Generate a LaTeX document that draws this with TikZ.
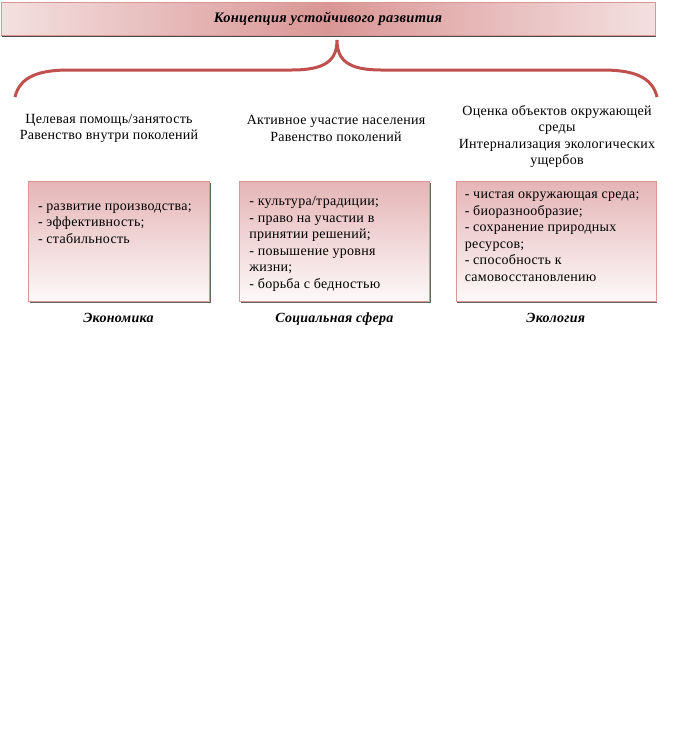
\documentclass[tikz,border=0pt]{standalone}
\usepackage{fontspec}
\setmainfont{Liberation Serif}[LetterSpace=2]
\usetikzlibrary{positioning, shadows}

\definecolor{rosedark}{RGB}{217,150,149}
\definecolor{roselight}{RGB}{244,224,224}
\definecolor{rosetop}{RGB}{229,181,182}
\definecolor{bracered}{RGB}{192,80,77}

\begin{document}
\begin{tikzpicture}[
    x=1pt, y=-1pt,
    node distance=8pt and 30pt,
    banner/.style={rectangle, draw=rosedark, left color=roselight, right color=roselight, middle color=rosedark, minimum width=654pt, minimum height=33pt, inner sep=0pt, drop shadow={shadow xshift=0.5pt, shadow yshift=-1.5pt, fill=black, opacity=0.7}},
    block/.style={rectangle, draw=rosedark, top color=rosetop, bottom color=rosetop!8, minimum height=120pt, inner sep=0pt, drop shadow={shadow xshift=1.5pt, shadow yshift=-1.5pt, fill=black, opacity=0.6}},
    goal/.style={font=\fontsize{14}{16.5}\selectfont, align=center},
    items/.style={font=\fontsize{14}{16.5}\selectfont, align=left, inner sep=0pt, anchor=north west},
    sphere/.style={font=\fontsize{14}{16}\selectfont\bfseries\itshape},
    brace/.style={draw=bracered, line width=3pt}
]
\useasboundingbox (0,0) rectangle (676,736);

% Title
\node[banner] (title) at (328,18.5) {\fontsize{14.5}{16}\selectfont\bfseries\itshape Концепция устойчивого развития};

% Brace
\coordinate (tip) at (337,40);
\coordinate (lend) at (15,97);
\coordinate (rend) at (657,97);
\draw[brace] (lend) .. controls (20,76) and (40,70) .. (69,70) -- (292,70)
    .. controls (326,70) and (337,60) .. (tip)
    .. controls (337,60) and (348,70) .. (381,70) -- (602,70)
    .. controls (632,70) and (652,76) .. (rend);

% Goals
\node[goal] (goalecon) at (109,128.5) {Целевая помощь/занятость\\Равенство внутри поколений};
\node[goal] (goalsoc) at (336,128.5) {Активное участие населения\\Равенство поколений};
\node[goal] (goaleco) at (557,136.5) {Оценка объектов окружающей\\среды\\Интернализация экологических\\ущербов};

% Blocks
\node[block, minimum width=181pt] (econ) at (118.5,241.5) {};
\node[block, minimum width=190pt, right=30pt of econ] (soc) {};
\node[block, minimum width=200pt, right=26pt of soc] (eco) {};

% Items
\node[items, below right=22pt and 10pt of econ.north west] (econitems) {- развитие производства;\\- эффективность;\\- стабильность};
\node[items, below right=15pt and 10pt of soc.north west] (socitems) {- культура/традиции;\\- право на участии в\\принятии решений;\\- повышение уровня\\жизни;\\- борьба с бедностью};
\node[items, below right=10.5pt and 9pt of eco.north west] (ecoitems) {- чистая окружающая среда;\\- биоразнообразие;\\- сохранение природных\\ресурсов;\\- способность к\\самовосстановлению};

% Spheres
\node[sphere, below=of econ] (econlabel) {Экономика};
\node[sphere, below=of soc] (soclabel) {Социальная сфера};
\node[sphere, below=of eco] (ecolabel) {Экология};

\end{tikzpicture}
\end{document}
